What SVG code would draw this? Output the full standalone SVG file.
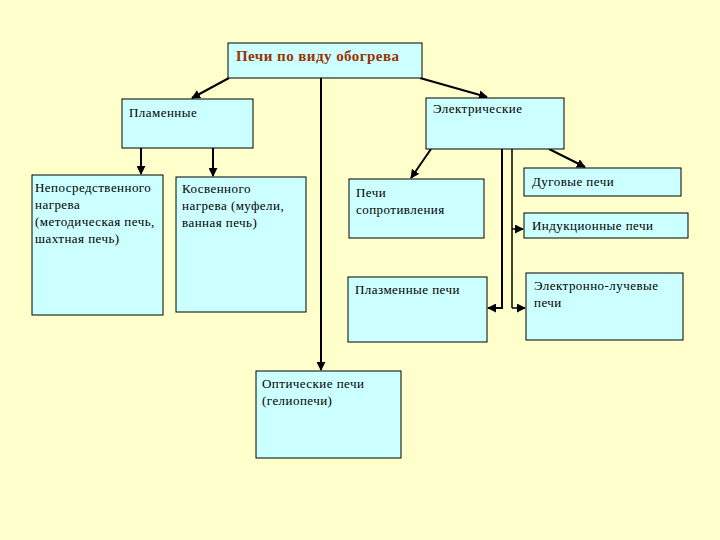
<svg xmlns="http://www.w3.org/2000/svg" width="720" height="540" viewBox="0 0 720 540">
<style>
.box{fill:#ccffff;stroke:#000;stroke-width:1}
.t{font-family:"Liberation Serif","Times New Roman",serif;font-size:13px;letter-spacing:0.45px;fill:#000}
.title{font-family:"Liberation Serif","Times New Roman",serif;font-size:15px;letter-spacing:0.45px;font-weight:bold;fill:#993300}
.c{stroke:#000;stroke-width:2;fill:none}
.c1{stroke:#000;stroke-width:1.5;fill:none}
</style>
<defs>
<marker id="ah" viewBox="0 0 10 10" refX="9" refY="5" markerWidth="4.5" markerHeight="4.5" orient="auto" markerUnits="strokeWidth">
<path d="M0,0 L10,5 L0,10 z" fill="#000"/>
</marker>
<marker id="ah1" viewBox="0 0 10 10" refX="9" refY="5" markerWidth="6" markerHeight="6" orient="auto" markerUnits="strokeWidth">
<path d="M0,0 L10,5 L0,10 z" fill="#000"/>
</marker>
</defs>
<rect width="720" height="540" fill="#ffffcc"/>
<g id="connectors">
<line class="c" x1="229" y1="78" x2="192" y2="98" marker-end="url(#ah)"/>
<line class="c" x1="420" y1="78" x2="487" y2="97" marker-end="url(#ah)"/>
<line class="c" x1="321" y1="78" x2="321" y2="370" marker-end="url(#ah)"/>
<line class="c" x1="141" y1="148" x2="141" y2="174" marker-end="url(#ah)"/>
<line class="c" x1="213" y1="148" x2="213" y2="176" marker-end="url(#ah)"/>
<line class="c" x1="431" y1="149" x2="411" y2="178" marker-end="url(#ah)"/>
<line class="c" x1="549" y1="149" x2="585" y2="167" marker-end="url(#ah)"/>
<polyline class="c" points="502,149 502,308 488,308" marker-end="url(#ah)"/>
<line class="c1" x1="512" y1="149" x2="512" y2="308"/>
<line class="c1" x1="512" y1="229" x2="523" y2="229" marker-end="url(#ah1)"/>
<line class="c1" x1="512" y1="308" x2="525" y2="308" marker-end="url(#ah1)"/>
</g>
<g id="root">
<rect class="box" x="228" y="43" width="194" height="35"/>
<text class="title" x="236" y="61">Печи по виду обогрева</text>
</g>
<g id="flame">
<rect class="box" x="122" y="99" width="131" height="49"/>
<text class="t" x="129" y="117">Пламенные</text>
</g>
<g id="electric">
<rect class="box" x="426" y="98" width="138" height="51"/>
<text class="t" x="433" y="113">Электрические</text>
</g>
<g id="direct">
<rect class="box" x="32" y="175" width="131" height="140"/>
<text class="t" x="35" y="192">Непосредственного</text>
<text class="t" x="35" y="209">нагрева</text>
<text class="t" x="35" y="226">(методическая печь,</text>
<text class="t" x="35" y="243">шахтная печь)</text>
</g>
<g id="indirect">
<rect class="box" x="176" y="177" width="130" height="135"/>
<text class="t" x="182" y="193">Косвенного</text>
<text class="t" x="182" y="210">нагрева (муфели,</text>
<text class="t" x="182" y="227">ванная печь)</text>
</g>
<g id="resistance">
<rect class="box" x="349" y="179" width="135" height="59"/>
<text class="t" x="356" y="197">Печи</text>
<text class="t" x="356" y="214">сопротивления</text>
</g>
<g id="arc">
<rect class="box" x="524" y="168" width="157" height="28"/>
<text class="t" x="532" y="186">Дуговые печи</text>
</g>
<g id="induction">
<rect class="box" x="524" y="213" width="164" height="25"/>
<text class="t" x="532" y="230">Индукционные печи</text>
</g>
<g id="plasma">
<rect class="box" x="348" y="277" width="139" height="65"/>
<text class="t" x="355" y="294">Плазменные печи</text>
</g>
<g id="ebeam">
<rect class="box" x="526" y="273" width="157" height="67"/>
<text class="t" x="534" y="290">Электронно-лучевые</text>
<text class="t" x="534" y="307">печи</text>
</g>
<g id="optical">
<rect class="box" x="256" y="371" width="145" height="87"/>
<text class="t" x="262" y="388">Оптические печи</text>
<text class="t" x="262" y="405">(гелиопечи)</text>
</g>
</svg>
